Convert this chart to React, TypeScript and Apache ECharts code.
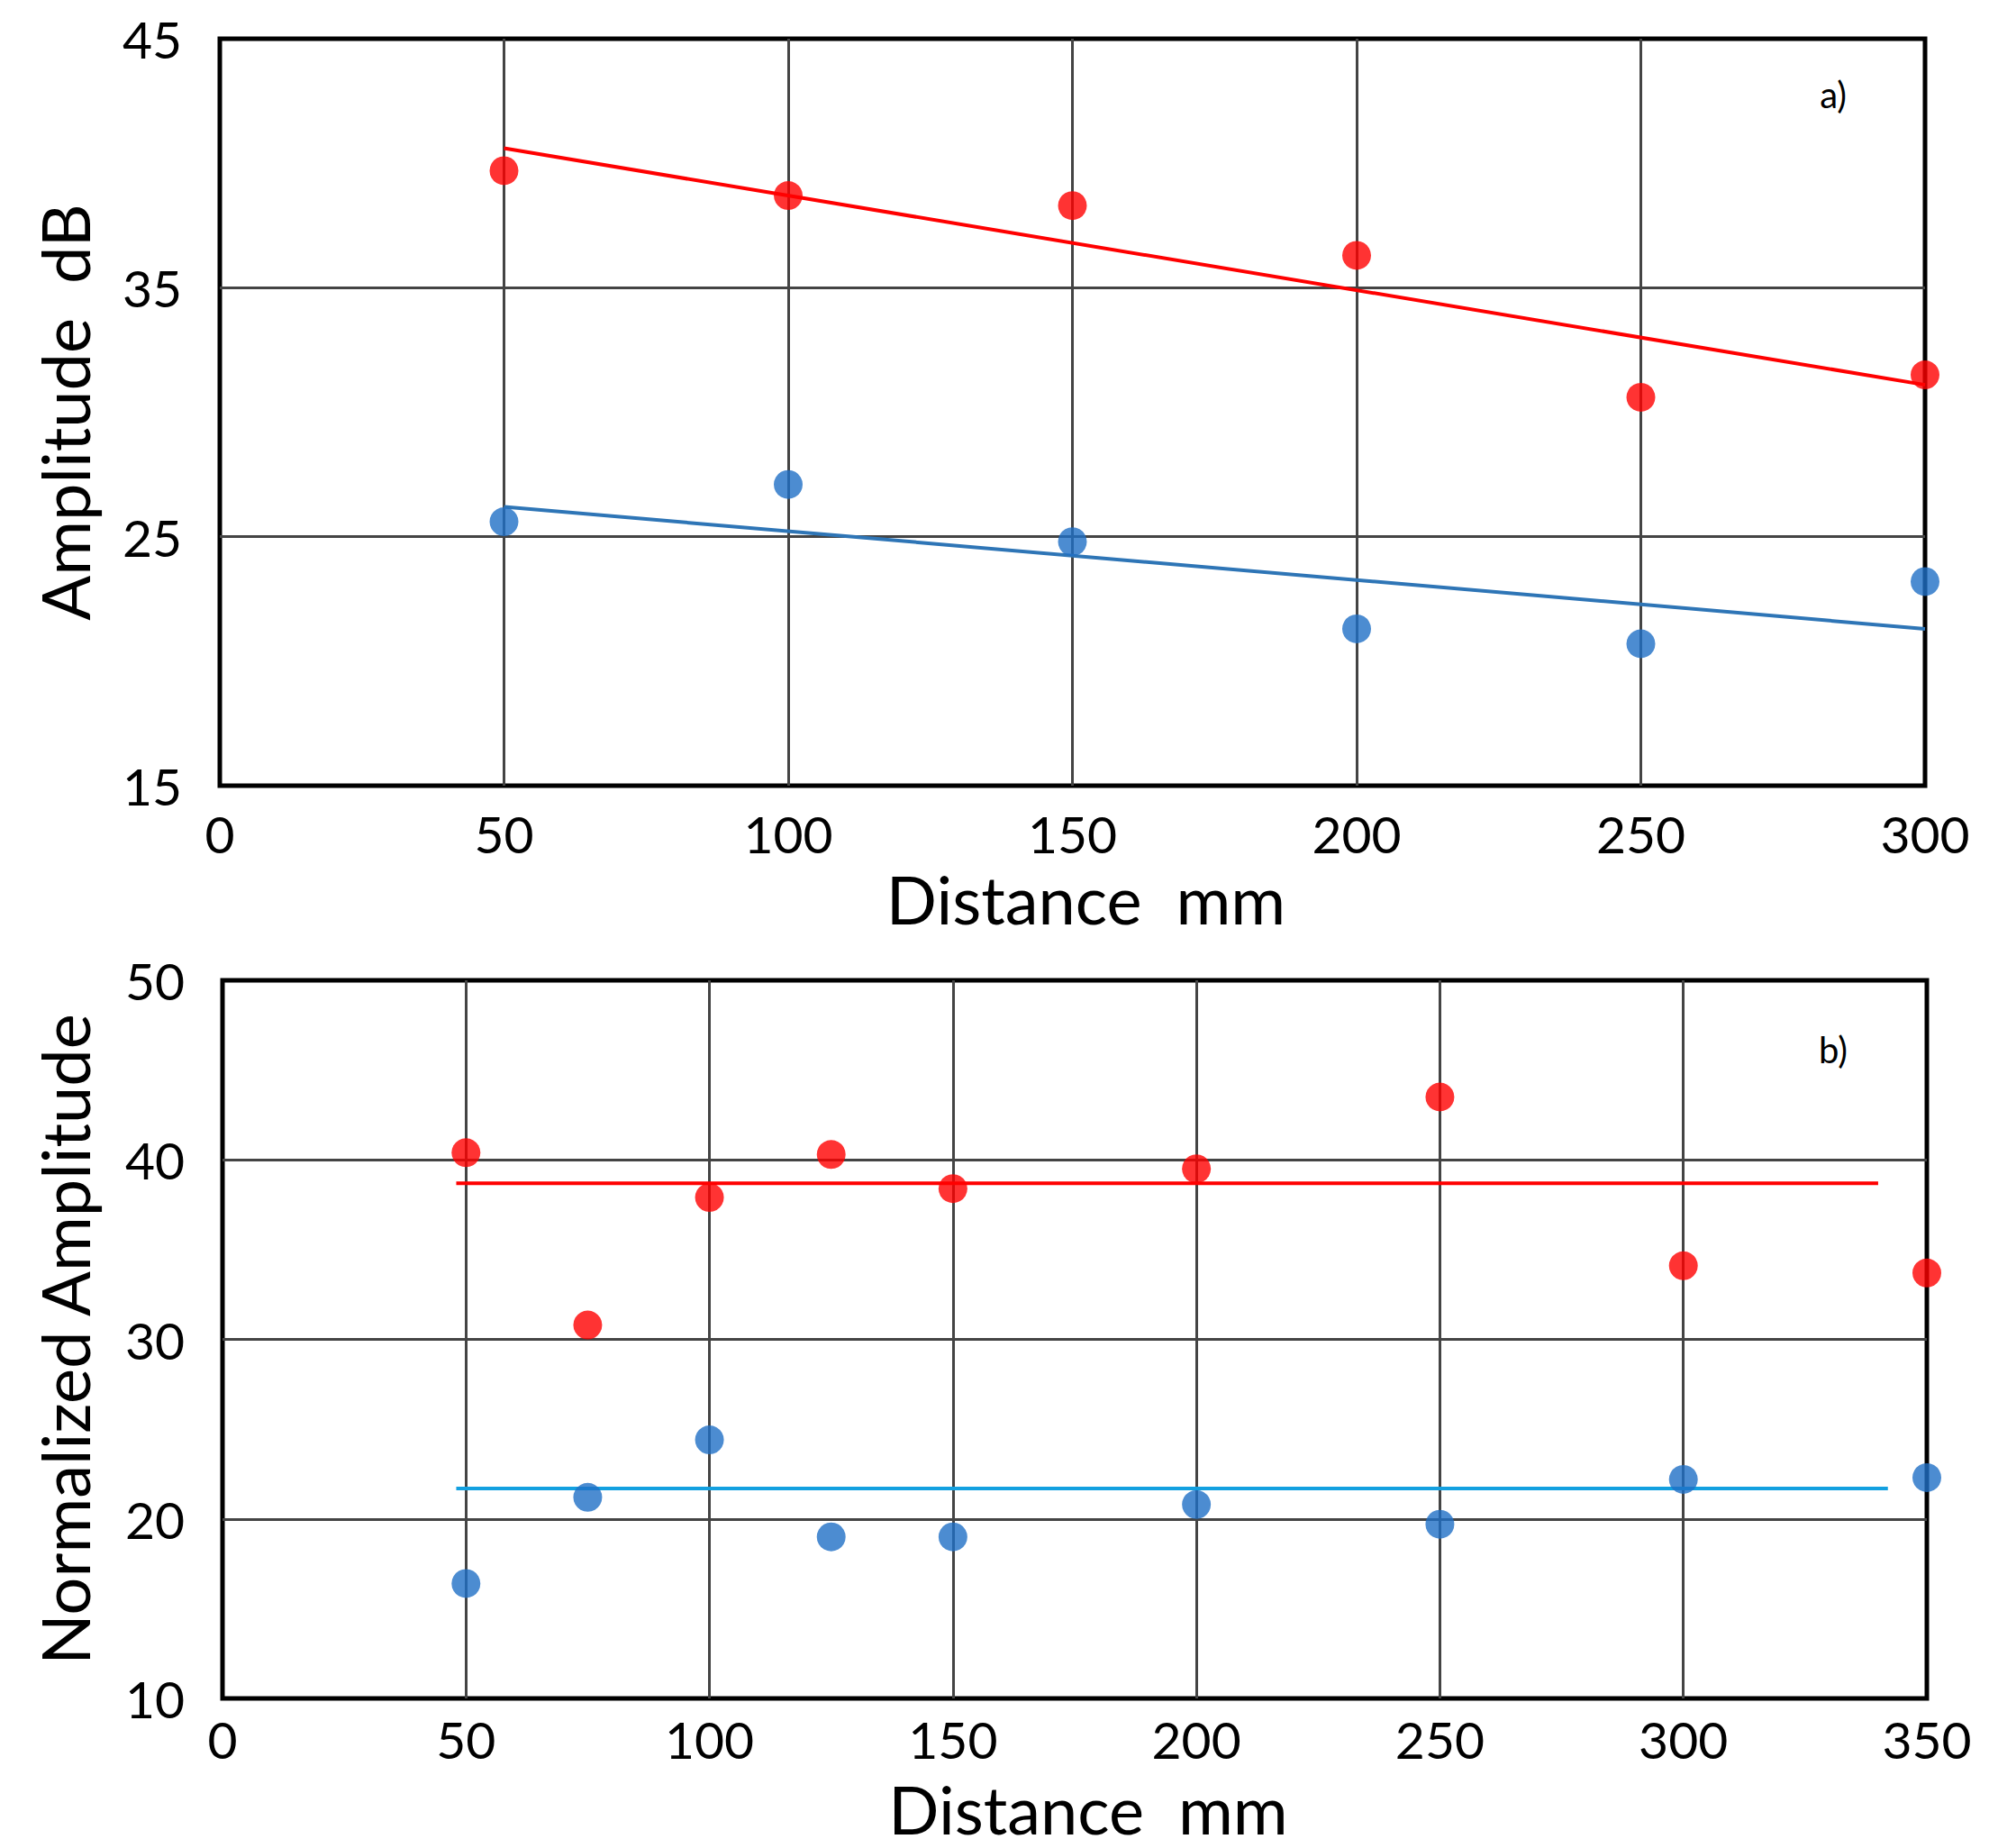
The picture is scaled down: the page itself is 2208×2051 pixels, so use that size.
import React, { useEffect, useRef } from "react";
import * as echarts from "echarts";

// ---- Data ----
const distanceA = [50, 100, 150, 200, 250, 300];
const redA = [39.7, 38.7, 38.3, 36.3, 30.6, 31.5];
const blueA = [25.6, 27.1, 24.8, 21.3, 20.7, 23.2];
const trendXA = [50, 300];
const redTrendA = [40.6, 31.1];
const blueTrendA = [26.2, 21.3];

const distanceB = [50, 75, 100, 125, 150, 200, 250, 300, 350];
const redB = [40.4, 30.8, 37.9, 40.3, 38.4, 39.5, 43.5, 34.1, 33.7];
const blueB = [16.4, 21.2, 24.4, 19.0, 19.0, 20.8, 19.7, 22.2, 22.3];
const redTrendXB = [48, 340];
const redTrendB = [38.7, 38.7];
const blueTrendXB = [48, 342];
const blueTrendB = [21.7, 21.7];

const xTitle = "Distance  mm";
const yTitleA = "Amplitude  dB";
const yTitleB = "Normalized Amplitude";
const panelA = "a)";
const panelB = "b)";

const FONT = "Lato";
const RED = "#ff0000";
const BLUE_PT = "#1f6fc6";
const BLUE_LINE_A = "#2e75b6";
const BLUE_LINE_B = "#13a0e0";

const zip = (xs: number[], ys: number[]) => xs.map((x, i) => [x, ys[i]]);

function makeXAxis(gridIndex: number, max: number, margin: number, nameGap: number) {
  return {
    type: "value",
    gridIndex,
    min: 0,
    max,
    interval: 50,
    name: xTitle,
    nameLocation: "middle",
    nameGap,
    nameTextStyle: { fontFamily: FONT, fontSize: 74, lineHeight: 60, color: "#000", padding: [0, 0, 0, 30] },
    axisLine: { show: false },
    axisTick: { show: false },
    axisLabel: { fontFamily: FONT, fontSize: 57, lineHeight: 50, color: "#000", margin },
    splitLine: {
      show: true,
      showMinLine: false,
      showMaxLine: false,
      lineStyle: { color: "#444", width: 3 },
    },
  };
}

function makeYAxis(gridIndex: number, min: number, max: number, name: string, nameGap: number) {
  return {
    type: "value",
    gridIndex,
    min,
    max,
    interval: 10,
    name,
    nameLocation: "middle",
    nameGap,
    nameTextStyle: { fontFamily: FONT, fontSize: 74, color: "#000" },
    axisLine: { show: false },
    axisTick: { show: false },
    axisLabel: { fontFamily: FONT, fontSize: 57, lineHeight: 50, color: "#000", margin: 42 },
    splitLine: {
      show: true,
      showMinLine: false,
      showMaxLine: false,
      lineStyle: { color: "#444", width: 3 },
    },
  };
}

function scatter(xi: number, data: number[][], color: string) {
  return {
    type: "scatter",
    xAxisIndex: xi,
    yAxisIndex: xi,
    data,
    symbol: "circle",
    symbolSize: 32,
    clip: false,
    itemStyle: { color },
    z: 5,
  };
}

function trend(xi: number, data: number[][], color: string) {
  return {
    type: "line",
    xAxisIndex: xi,
    yAxisIndex: xi,
    data,
    showSymbol: false,
    symbol: "none",
    lineStyle: { color, width: 4 },
    z: 4,
  };
}

export default function App() {
  const ref = useRef<HTMLDivElement>(null);
  useEffect(() => {
    if (!ref.current) return;
    const chart = echarts.init(ref.current, undefined, { renderer: "svg" });
    chart.setOption({
      animation: false,
      backgroundColor: "#fff",
      textStyle: { fontFamily: FONT },
      grid: [
        { left: 244, top: 43, width: 1893, height: 829, show: true, borderColor: "#000", borderWidth: 5, backgroundColor: "transparent" },
        { left: 247, top: 1088, width: 1892, height: 797, show: true, borderColor: "#000", borderWidth: 5, backgroundColor: "transparent" },
      ],
      xAxis: [makeXAxis(0, 300, 28, 95), makeXAxis(1, 350, 20, 92)],
      yAxis: [makeYAxis(0, 15, 45, yTitleA, 136), makeYAxis(1, 10, 50, yTitleB, 139)],
      graphic: [
        { type: "text", x: 2050, y: 105, style: { text: panelA, font: `40px ${FONT}`, fill: "#000", textAlign: "right", textVerticalAlign: "middle" } },
        { type: "text", x: 2051, y: 1165, style: { text: panelB, font: `40px ${FONT}`, fill: "#000", textAlign: "right", textVerticalAlign: "middle" } },
      ],
      series: [
        trend(0, zip(trendXA, redTrendA), RED),
        trend(0, zip(trendXA, blueTrendA), BLUE_LINE_A),
        scatter(0, zip(distanceA, redA), RED),
        scatter(0, zip(distanceA, blueA), BLUE_PT),
        trend(1, zip(redTrendXB, redTrendB), RED),
        trend(1, zip(blueTrendXB, blueTrendB), BLUE_LINE_B),
        scatter(1, zip(distanceB, redB), RED),
        scatter(1, zip(distanceB, blueB), BLUE_PT),
      ],
    });
    return () => chart.dispose();
  }, []);
  return (
    <div
      ref={ref}
      style={{ position: "fixed", left: 0, top: 0, width: 2208, height: 2051, background: "#fff" }}
    />
  );
}
